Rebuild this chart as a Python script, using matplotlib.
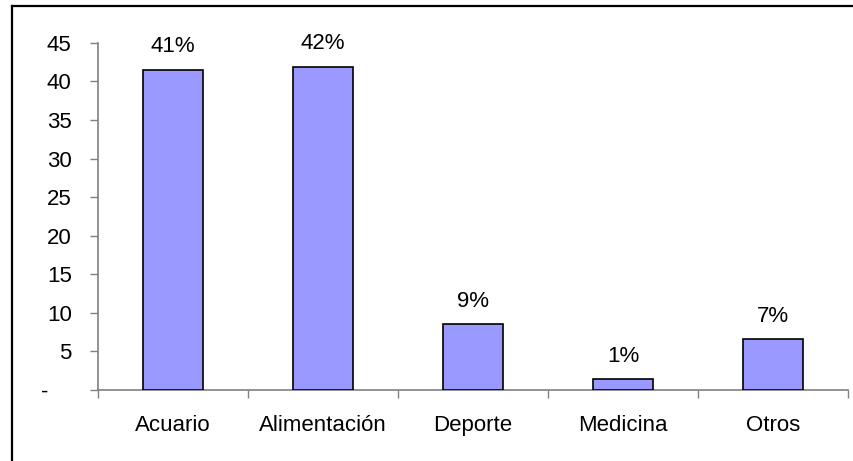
import matplotlib
matplotlib.use('Agg')
import matplotlib.pyplot as plt
import matplotlib.transforms as mtransforms
from matplotlib.lines import Line2D

# Data
categories = ['Acuario', 'Alimentación', 'Deporte', 'Medicina', 'Otros']
values = [41.5, 41.9, 8.5, 1.4, 6.6]
pct_labels = ['41%', '42%', '9%', '1%', '7%']
yticks = [0, 5, 10, 15, 20, 25, 30, 35, 40, 45]
ytick_labels = ['-', '5', '10', '15', '20', '25', '30', '35', '40', '45']

plt.rcParams['font.family'] = ['Liberation Sans', 'DejaVu Sans']
FS = 16

fig = plt.figure(figsize=(8.54, 4.61), dpi=100)
ax = fig.add_axes([0.1148, 0.154, 0.878, 0.753])

x = list(range(len(categories)))
bars = ax.bar(x, values, width=0.4, color='#9999FF', edgecolor='black',
              linewidth=1.2, zorder=3)

for b, lab in zip(bars, pct_labels):
    ax.annotate(lab, (b.get_x() + b.get_width() / 2, b.get_height()),
                xytext=(0, 9), textcoords='offset points',
                ha='center', va='bottom', fontsize=FS)

ax.set_xlim(-0.5, len(categories) - 0.5)
ax.set_ylim(0, 45)

# y axis
ax.set_yticks(yticks)
ax.set_yticklabels(ytick_labels, fontsize=FS)
ax.tick_params(axis='y', direction='out', length=6, width=1,
               color='#808080', pad=13)
zero_lab = ax.get_yticklabels()[0]
zero_lab.set_transform(zero_lab.get_transform() +
                       mtransforms.ScaledTranslation(-17 / 72, 0,
                                                     fig.dpi_scale_trans))

# x axis: labels at centres, tick marks between categories
ax.set_xticks(x)
ax.set_xticklabels(categories, fontsize=FS)
ax.tick_params(axis='x', which='major', length=0, pad=18)
ax.set_xticks([i + 0.5 for i in range(-1, len(categories))], minor=True)
ax.tick_params(axis='x', which='minor', direction='out', length=6,
               width=1, color='#808080')

for side in ['top', 'right']:
    ax.spines[side].set_visible(False)
for side in ['left', 'bottom']:
    ax.spines[side].set_color('#808080')
    ax.spines[side].set_linewidth(1.2)

# outer chart-area frame (only left and top edges visible)
fig.add_artist(Line2D([0.0145, 0.0145], [-0.01, 0.988], color='black',
                      linewidth=1.6, transform=fig.transFigure))
fig.add_artist(Line2D([0.0145, 1.01], [0.988, 0.988], color='black',
                      linewidth=1.6, transform=fig.transFigure))

fig.savefig('out.png', dpi=100)
